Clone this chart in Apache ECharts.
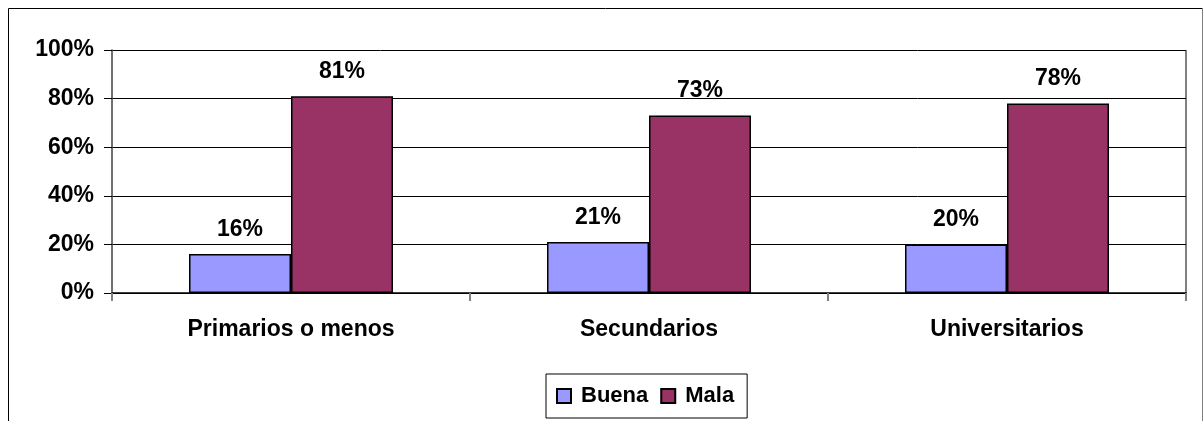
<!DOCTYPE html>
<html>
<head>
<meta charset="utf-8">
<script src="https://cdn.jsdelivr.net/npm/echarts@6/dist/echarts.min.js"></script>
<style>
  html, body { margin: 0; padding: 0; background: #fff; }
  #chart { width: 1204px; height: 421px; }
</style>
</head>
<body>
<div id="chart"></div>
<script>
// datos
const categories = ['Primarios o menos', 'Secundarios', 'Universitarios'];
const buena = [16, 21, 20];
const mala = [81, 73, 78];
const yTicks = [0, 20, 40, 60, 80, 100];

const font = '"Liberation Sans", Arial, sans-serif';

let chart = echarts.init(document.getElementById('chart'));

function barSeries(name, data, color) {
  return {
    name: name,
    type: 'bar',
    data: data,
    barWidth: 102,
    barGap: '0%',
    itemStyle: {color: color, borderColor: '#000', borderWidth: 1.5},
    label: {
      show: true,
      position: 'top',
      distance: 13,
      formatter: '{c}%',
      color: '#000',
      fontFamily: font,
      fontWeight: 'bold',
      fontSize: 23
    }
  };
}

chart.setOption({
  animation: false,
  backgroundColor: '#fff',
  grid: {left: 112, right: 18, top: 50, bottom: 128},
  legend: {
    left: 546,
    top: 374,
    padding: [11, 13, 11, 10],
    borderColor: '#000',
    borderWidth: 1,
    itemWidth: 14,
    itemHeight: 14,
    itemGap: 12,
    icon: 'rect',
    textStyle: {
      color: '#000',
      fontFamily: font,
      fontWeight: 'bold',
      fontSize: 22,
      padding: [0, 0, 0, 5]
    },
    data: ['Buena', 'Mala']
  },
  xAxis: {
    type: 'category',
    data: categories,
    axisLine: {lineStyle: {color: '#000', width: 1.5}},
    axisTick: {show: true, length: 8, lineStyle: {color: '#808080', width: 2}},
    axisLabel: {
      margin: 25,
      color: '#000',
      fontFamily: font,
      fontWeight: 'bold',
      fontSize: 23
    },
    splitLine: {show: false}
  },
  yAxis: {
    type: 'value',
    min: yTicks[0],
    max: yTicks[yTicks.length - 1],
    interval: 20,
    axisLine: {show: true, lineStyle: {color: '#404040', width: 1.5}},
    axisTick: {show: true, length: 8, lineStyle: {color: '#000'}},
    axisLabel: {
      margin: 18,
      formatter: '{value}%',
      color: '#000',
      fontFamily: font,
      fontWeight: 'bold',
      fontSize: 23
    },
    splitLine: {show: true, lineStyle: {color: '#000', width: 1}}
  },
  graphic: [
    // marco exterior
    {type: 'line', shape: {x1: 8.5, y1: 8.5, x2: 1202.5, y2: 8.5}, style: {stroke: '#000', lineWidth: 1}},
    {type: 'line', shape: {x1: 8.5, y1: 8.5, x2: 8.5, y2: 421}, style: {stroke: '#000', lineWidth: 1}},
    {type: 'line', shape: {x1: 1202.5, y1: 8.5, x2: 1202.5, y2: 421}, style: {stroke: '#808080', lineWidth: 1}},
    // borde derecho del área de trazado
    {type: 'line', shape: {x1: 1186, y1: 50, x2: 1186, y2: 293}, style: {stroke: '#808080', lineWidth: 2}}
  ],
  series: [
    barSeries('Buena', buena, '#9999FF'),
    barSeries('Mala', mala, '#993366')
  ]
});
</script>
</body>
</html>
